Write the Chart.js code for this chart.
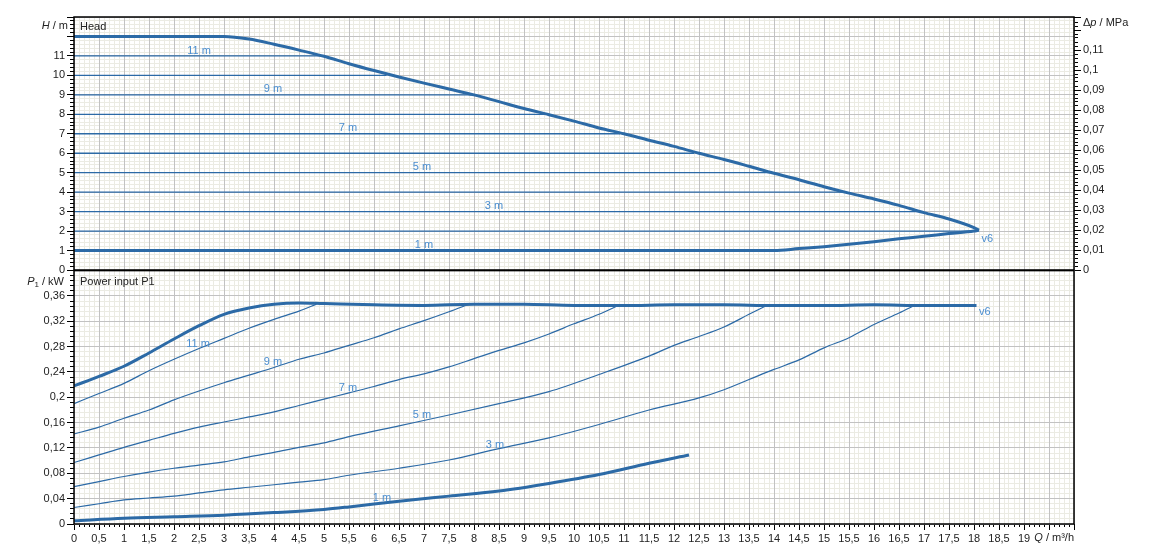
<!DOCTYPE html>
<html>
<head>
<meta charset="utf-8">
<script src="https://cdn.jsdelivr.net/npm/chart.js@4.4.1/dist/chart.umd.min.js"></script>
<style>
body{margin:0;background:#fff;}
#wrap{position:relative;width:1149px;height:559px;}
#topBox{position:absolute;left:0;top:0;width:1149px;height:282px;}
#botBox{position:absolute;left:0;top:262px;width:1149px;height:297px;}
</style>
</head>
<body>
<div id="wrap">
<div id="topBox"><canvas id="head"></canvas></div>
<div id="botBox"><canvas id="power"></canvas></div>
</div>
<script>

// Head curves (Q in m3/h, H in m)
const qMaxHead = [0,0.5,1,1.5,2,2.5,3,3.5,4,4.5,5,5.5,6,6.5,7,7.5,8,8.5,9,9.5,10,10.5,11,11.5,12,12.5,13,13.5,14,14.5,15,15.5,16,16.5,17,17.5,18,18.1];
const hMax = [12,12,12,12,12,12,12,11.87,11.6,11.3,10.98,10.6,10.25,9.92,9.6,9.3,9.0,8.65,8.3,7.98,7.65,7.3,7.0,6.67,6.35,6.0,5.68,5.33,4.97,4.64,4.28,3.95,3.65,3.32,2.95,2.62,2.18,2.05];
const qMinHead = [0,14,14.5,15,15.5,16,16.5,17,17.5,18,18.1];
const hMin = [1,1,1.1,1.2,1.32,1.45,1.6,1.73,1.87,2.0,2.05];
const constHeads = [2,3,4,5,6,7,8,9,10,11];
const constHeadEnds = [18.05,16.92,15.4,13.92,12.4,10.92,9.45,7.95,6.25,4.95];

// Power input P1 curves (kW)
const pMaxQ = [0,0.5,1,1.5,2,2.5,3,3.5,4,4.5,5,6,7,8,9,10,11,12,13,14,15,16,17,18.05];
const pMax = [0.218,0.233,0.249,0.27,0.292,0.313,0.331,0.341,0.347,0.349,0.348,0.346,0.345,0.347,0.347,0.345,0.345,0.346,0.346,0.345,0.345,0.346,0.345,0.345];
const p11Q = [0,0.5,1,1.5,2,2.5,3,3.5,4,4.5,4.85];
const p11 = [0.19,0.206,0.222,0.242,0.26,0.277,0.293,0.309,0.323,0.336,0.347];
const p9Q = [0,0.5,1,1.5,2,2.5,3,3.5,4,4.5,5,5.5,6,6.5,7,7.5,7.9];
const p9 = [0.142,0.153,0.167,0.18,0.196,0.21,0.223,0.235,0.247,0.26,0.27,0.282,0.294,0.308,0.321,0.335,0.347];
const p7Q = [0,0.5,1,1.5,2,2.5,3,3.5,4,4.5,5,5.5,6,6.5,7,7.5,8,8.5,9,9.5,10,10.5,10.92];
const p7 = [0.097,0.109,0.121,0.132,0.143,0.153,0.161,0.169,0.177,0.187,0.197,0.207,0.217,0.228,0.237,0.248,0.261,0.274,0.286,0.3,0.316,0.331,0.346];
const p5Q = [0,0.5,1,1.5,2,2.5,3,3.5,4,4.5,5,5.5,6.5,7.5,8.5,9.5,10.5,11.5,12,12.5,13,13.5,13.88];
const p5 = [0.059,0.067,0.075,0.082,0.088,0.093,0.098,0.106,0.113,0.121,0.128,0.138,0.155,0.172,0.19,0.209,0.236,0.265,0.282,0.296,0.311,0.331,0.346];
const p3Q = [0,0.5,1,1.5,2,2.5,3,3.5,4,4.5,5,5.5,6.5,7.5,8.5,9.5,10.5,11.5,12.5,13,13.5,14,14.5,15,15.5,16,16.5,16.81];
const p3 = [0.026,0.032,0.038,0.041,0.044,0.049,0.054,0.058,0.062,0.066,0.07,0.077,0.088,0.101,0.119,0.136,0.157,0.18,0.199,0.212,0.228,0.244,0.259,0.278,0.294,0.315,0.333,0.345];
const p1Q = [0,1,2,3,4,5,5.5,6.5,7.5,8.5,9.5,10.5,11.5,12.3];
const p1 = [0.005,0.009,0.0115,0.014,0.018,0.023,0.027,0.036,0.044,0.052,0.064,0.078,0.096,0.109];

// curve labels
const headLabels = ['11 m','9 m','7 m','5 m','3 m','1 m','v6'];
const powerLabels = ['11 m','9 m','7 m','5 m','3 m','1 m','v6'];

const FAMILY = '"Liberation Sans", Arial, sans-serif';
const LINE = '#2c6aa6';
const LABEL_BLUE = '#4b8ed0';
const MAJOR = '#c2c2c2';
const MINOR = '#ebebe3';
const TEXT = '#222';

Chart.defaults.font.family = FAMILY;
Chart.defaults.font.size = 11;
Chart.defaults.color = TEXT;

function pts(qs, vs){ return qs.map((q,i)=>({x:q,y:vs[i]})); }
function fmt(v){ return String(Math.round(v*1000)/1000).replace('.',','); }

function line(data, width){
  return {data:data, borderColor:LINE, borderWidth:width, pointRadius:0, fill:false,
    cubicInterpolationMode:'monotone', xAxisID:'x', yAxisID:'y'};
}

function minorAxis(axis, pos, min, max, step, tl, onArea){
  return {type:'linear', axis:axis, position:pos, min:min, max:max, weight:0,
    ticks:{display:false, stepSize:step, autoSkip:false},
    grid:{drawOnChartArea:onArea, color:MINOR, z:-2, tickLength:tl, tickColor:'#000', drawTicks:tl>0},
    border:{display:false},
    afterFit(s){ if(axis==='y') s.width=0; else s.height=0; }};
}

function majorAxis(axis, pos, min, max, step, tl, onArea, size, labelFn){
  return {type:'linear', axis:axis, position:pos, min:min, max:max, weight:1,
    ticks:{display:!!labelFn, stepSize:step, autoSkip:false, maxRotation:0, padding:2,
      callback:labelFn || (()=>''), color:TEXT, font:{size:11}},
    grid:{drawOnChartArea:onArea, color:MAJOR, z:-1, tickLength:tl, tickColor:'#000', drawTicks:tl>0},
    border:{display:false},
    afterFit(s){ if(axis==='y') s.width=size; else s.height=size; }};
}

function drawRich(ctx, segs, x, y, align){
  let w = 0;
  segs.forEach(s=>{ ctx.font = (s.it?'italic ':'') + (s.sub?'8px ':'11px ') + FAMILY; s.w = ctx.measureText(s.t).width; w += s.w; });
  let cx = align==='right' ? x - w : x;
  segs.forEach(s=>{
    ctx.font = (s.it?'italic ':'') + (s.sub?'8px ':'11px ') + FAMILY;
    ctx.textAlign='left';
    ctx.fillText(s.t, cx, y + (s.sub?3:0));
    cx += s.w;
  });
}

const decor = {
  id:'decor',
  afterDraw(chart, args, o){
    const ctx = chart.ctx, a = chart.chartArea;
    const xs = chart.scales.x, ys = chart.scales.y;
    ctx.save();
    ctx.font = '11px ' + FAMILY;
    ctx.fillStyle = LABEL_BLUE;
    ctx.textBaseline = 'middle';
    o.labels.forEach(l=>{
      ctx.textAlign = l.align || 'center';
      ctx.fillText(l.text, xs.getPixelForValue(l.q), ys.getPixelForValue(l.v));
    });
    ctx.strokeStyle = '#000';
    ctx.lineWidth = 1.5;
    ctx.strokeRect(a.left, a.top, a.right-a.left, a.bottom-a.top);
    ctx.fillStyle = TEXT;
    o.texts.forEach(t=>drawRich(ctx, t.segs, t.x, t.y, t.align));
    ctx.restore();
  }
};

// ---- Head chart ----
const headSets = [line(pts(qMaxHead,hMax),3), line(pts(qMinHead,hMin),3)];
constHeads.forEach((h,i)=>headSets.push(line(pts([0,constHeadEnds[i]],[h,h]),1.3)));

new Chart(document.getElementById('head'),{
  type:'line',
  data:{datasets:headSets},
  options:{
    responsive:true, maintainAspectRatio:false, animation:false,
    layout:{padding:{top:17,bottom:12,left:0,right:0}},
    plugins:{legend:{display:false}, tooltip:{enabled:false},
      decor:{
        labels:[
          {text:headLabels[0], q:2.5, v:11.28},
          {text:headLabels[1], q:3.98, v:9.28},
          {text:headLabels[2], q:5.48, v:7.28},
          {text:headLabels[3], q:6.96, v:5.28},
          {text:headLabels[4], q:8.4, v:3.28},
          {text:headLabels[5], q:7.0, v:1.28},
          {text:headLabels[6], q:18.15, v:1.62, align:'left'}
        ],
        texts:[
          {segs:[{t:'Head'}], x:80, y:27},
          {segs:[{t:'H',it:true},{t:' / m'}], x:68, y:26, align:'right'},
          {segs:[{t:'\u0394'},{t:'p',it:true},{t:' / MPa'}], x:1083, y:23}
        ]
      }
    },
    scales:{
      xMin: minorAxis('x','bottom',0,20,0.1,0,true),
      x: majorAxis('x','bottom',0,20,0.5,0,true,0,null),
      yMin: minorAxis('y','left',0,13,0.2,4,true),
      y: majorAxis('y','left',0,13,1,7,true,74,(v)=> v<=11 ? fmt(v) : ''),
      y2Min: minorAxis('y','right',0,0.1265,0.002,4,false),
      y2: majorAxis('y','right',0,0.1265,0.01,7,false,75,(v)=> v<=0.111 ? fmt(v) : '')
    }
  },
  plugins:[decor]
});

// ---- Power chart ----
const powerSets = [
  line(pts(pMaxQ,pMax),3),
  line(pts(p11Q,p11),1.2),
  line(pts(p9Q,p9),1.2),
  line(pts(p7Q,p7),1.2),
  line(pts(p5Q,p5),1.2),
  line(pts(p3Q,p3),1.2),
  line(pts(p1Q,p1),3)
];

new Chart(document.getElementById('power'),{
  type:'line',
  data:{datasets:powerSets},
  options:{
    responsive:true, maintainAspectRatio:false, animation:false,
    layout:{padding:{top:8,bottom:0,left:0,right:75}},
    plugins:{legend:{display:false}, tooltip:{enabled:false},
      decor:{
        labels:[
          {text:powerLabels[0], q:2.48, v:0.284},
          {text:powerLabels[1], q:3.98, v:0.255},
          {text:powerLabels[2], q:5.48, v:0.214},
          {text:powerLabels[3], q:6.96, v:0.172},
          {text:powerLabels[4], q:8.42, v:0.125},
          {text:powerLabels[5], q:6.16, v:0.041},
          {text:powerLabels[6], q:18.1, v:0.334, align:'left'}
        ],
        texts:[
          {segs:[{t:'Power input P1'}], x:80, y:20},
          {segs:[{t:'P',it:true},{t:'1',sub:true},{t:' / kW'}], x:64, y:20, align:'right'},
          {segs:[{t:'Q',it:true},{t:' / m\u00b3/h'}], x:1074, y:276, align:'right'}
        ]
      }
    },
    scales:{
      xMin: minorAxis('x','bottom',0,20,0.1,3,true),
      x: majorAxis('x','bottom',0,20,0.5,6,true,35,(v)=> v<=19.01 ? fmt(v) : ''),
      yMin: minorAxis('y','left',0,0.4,0.008,4,true),
      y: majorAxis('y','left',0,0.4,0.04,7,true,74,(v)=> v<=0.361 ? fmt(v) : '')
    }
  },
  plugins:[decor]
});
</script>
</body>
</html>
